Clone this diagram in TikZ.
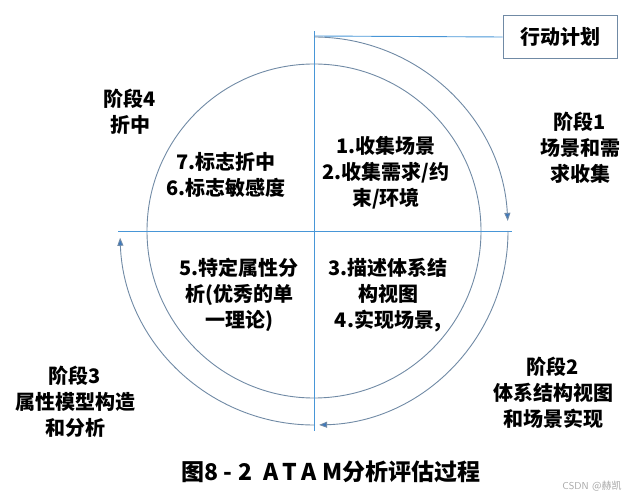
\documentclass[tikz,border=0pt]{standalone}
\usepackage{fontspec}
\newfontfamily\cjk{Noto Sans CJK SC}
\newfontfamily\caplatin[LetterSpace=25]{Noto Sans CJK SC}
\usetikzlibrary{arrows.meta}
\definecolor{axisblue}{RGB}{72,150,215}
\definecolor{ringgray}{RGB}{112,138,165}
\definecolor{tipblue}{RGB}{60,120,190}
\tikzset{
  phase/.style={align=center, font=\cjk\bfseries\fontsize{20}{26}\selectfont},
  stepnote/.style={align=center, font=\cjk\bfseries\fontsize{20}{26}\selectfont},
  axis/.style={draw=axisblue, line width=0.9pt},
  ring/.style={draw=ringgray, line width=0.9pt},
  flow/.style={draw=ringgray, line width=0.9pt,
    -{Triangle[length=8pt,width=6pt,fill=tipblue]}}
}
\begin{document}
\begin{tikzpicture}[x=1pt, y=-1pt]
  \useasboundingbox (0,0) rectangle (642,502);
  % Nodes
  \coordinate (c) at (314,231);
  \coordinate (vtop) at (314,31);
  \coordinate (vbot) at (314,431);
  \coordinate (hleft) at (118,231);
  \coordinate (hright) at (512,231);
  \coordinate (ptop) at (314,36);
  \node[draw=ringgray, line width=0.9pt, minimum width=114pt, minimum height=43pt,
    font=\cjk\bfseries\fontsize{20}{24}\selectfont] (plan) at (560,37) {行动计划};

  \node[phase] (p1) at (580,148) {阶段1\\场景和需\\求收集};
  \node[phase] (p2) at (553,393) {阶段2\\体系结构视图\\和场景实现};
  \node[phase] (p3) at (75,402) {阶段3\\属性模型构造\\和分析};
  \node[phase] (p4) at (130,112) {阶段4\\折中};

  \node[stepnote] (s12) at (386,173) {1.收集场景\\2.收集需求/约\\束/环境};
  \node[stepnote] (s34) at (388,295) {3.描述体系结\\构视图\\4.实现场景,};
  \node[stepnote] (s5) at (239,295) {5.特定属性分\\析(优秀的单\\一理论)};
  \node[stepnote] (s67) at (226,175) {7.标志折中\\6.标志敏感度};

  \node[font=\cjk\bfseries\fontsize{23}{26}\selectfont] (cap) at (331,472) {图{\caplatin\bfseries 8-2 ATAM}分析评估过程};
  \node[font=\sffamily\fontsize{10}{12}\selectfont, text=gray!70] (mark) at (592,486) {CSDN {\cjk @赫凯}};

  % Edges
  \draw[ring] (c) circle (167);
  \draw[axis] (hleft) -- (hright);
  \draw[axis] (vtop) -- (vbot);
  \draw[axis] (ptop) -- (plan.west);
  \draw[flow] (c) ++(270:194) arc[start angle=270, end angle=357, radius=194];
  \draw[flow] (c) ++(0:194) arc[start angle=0, end angle=88.5, radius=194];
  \draw[flow] (c) ++(90:194) arc[start angle=90, end angle=178, radius=194];
\end{tikzpicture}
\end{document}
